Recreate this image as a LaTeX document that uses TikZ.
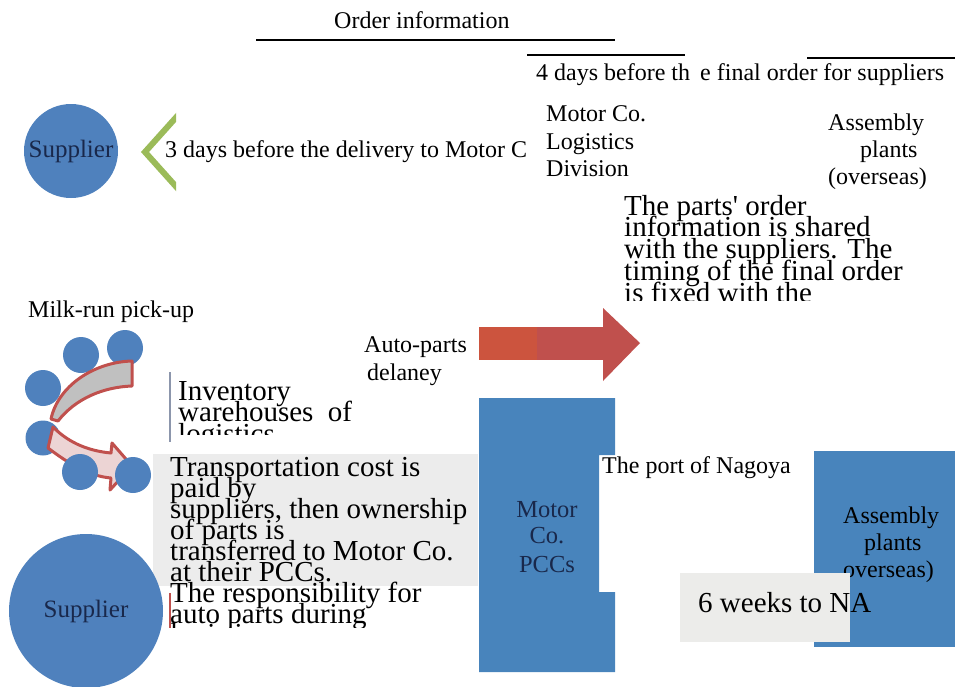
\documentclass[tikz,border=0pt]{standalone}
\usepackage{fontspec}
\setmainfont{Liberation Serif}
\definecolor{boxblue}{RGB}{72,132,188}
\definecolor{circblue}{RGB}{79,129,189}
\definecolor{navy}{RGB}{25,40,75}
\definecolor{arrred}{RGB}{192,80,77}
\definecolor{arrorange}{RGB}{204,84,62}
\definecolor{chevgreen}{RGB}{155,187,89}
\definecolor{greybox}{RGB}{236,236,236}
\definecolor{greybox2}{RGB}{236,236,234}
\definecolor{bandgrey}{RGB}{192,192,192}
\definecolor{bandpink}{RGB}{236,212,212}
\definecolor{thinline}{RGB}{140,150,172}
\begin{document}
\begin{tikzpicture}[x=1pt,y=-1pt,
  sm/.style={font=\fontsize{24}{24}\selectfont, inner sep=0pt, anchor=base west},
  lg/.style={font=\fontsize{29}{29}\selectfont, inner sep=0pt, anchor=base west},
  inbox/.style={font=\fontsize{24.5}{24}\selectfont, inner sep=0pt, anchor=base, text=navy},
  hline/.style={line width=2pt},
  blob/.style={circle, fill=circblue, inner sep=0pt, minimum size=#1},
  bandline/.style={draw=arrred, line width=3pt, line join=round},
]
\useasboundingbox (0,0) rectangle (955,686);

% ---- top rules and texts
\coordinate (l1a) at (256,40); \coordinate (l1b) at (615,40);
\coordinate (l2a) at (527,55); \coordinate (l2b) at (685,55);
\coordinate (l3a) at (807,58); \coordinate (l3b) at (955,58);
\draw[hline] (l1a) -- (l1b);
\draw[hline] (l2a) -- (l2b);
\draw[hline] (l3a) -- (l3b);
\node[sm] (ordinfo) at (334,28) {Order information};
\node[sm] (fourA) at (536,80) {4 days before th};
\node[sm] (fourB) at (700,80) {e final order for suppliers};

% ---- supplier (top) and chevron
\node[blob=94pt, font=\fontsize{25}{25}\selectfont, text=navy] (sup1) at (71,151) {Supplier};
\begin{scope}
  \clip (130,100) rectangle (176,200);
  \coordinate (chA) at (180,113);
  \coordinate (chB) at (145,152);
  \coordinate (chC) at (180,191);
  \draw[chevgreen, line width=6pt, line join=miter] (chA) -- (chB) -- (chC);
\end{scope}
\node[sm] (three) at (165,157) {3 days before the delivery to Motor C};

\node[sm] (mc1) at (546,121) {Motor Co.};
\node[sm] (mc2) at (546,149) {Logistics};
\node[sm] (mc3) at (546,176) {Division};

\node[sm] (as1) at (828,130) {Assembly};
\node[sm] (as2) at (860,157) {plants};
\node[sm] (as3) at (828,184) {(overseas)};

% ---- parts order text (clipped)
\begin{scope}
  \clip (600,190) rectangle (955,300);
  \foreach \t [count=\i] in {The parts\textquotesingle{} order, information is shared, with the suppliers. The, timing of the final order, is fixed with the}
    \node[lg] (po\i) at (624,{215+21.8*(\i-1)}) {\t};
\end{scope}

% ---- milk run
\node[sm] (milk) at (28,317) {Milk-run pick-up};
\node[blob=36pt] (mA) at (81,355) {};
\node[blob=36pt] (mB) at (125,348) {};
\node[blob=36pt] (mC) at (43,388) {};
\node[blob=35pt] (mD) at (43,438) {};
\draw[bandline, fill=bandgrey] (132,361) -- (132,386)
  .. controls (104,387) and (76,398) .. (58,421)
  -- (51,419)
  .. controls (58,386) and (94,362) .. cycle;
\draw[bandline, fill=bandpink] (53,427)
  .. controls (70,444) and (90,451) .. (111,453)
  -- (112,443) -- (132,466) -- (110,490) -- (111,478)
  .. controls (88,476) and (68,463) .. (48,448) -- cycle;
\node[blob=36pt] (mE) at (80,472) {};
\node[blob=36pt] (mF) at (133,475) {};

% ---- inventory text
\coordinate (vl1) at (170,372); \coordinate (vl2) at (170,442);
\draw[thinline, line width=1.5pt] (vl1) -- (vl2);
\begin{scope}
  \clip (160,370) rectangle (480,434);
  \node[lg] (inv1) at (178,400) {Inventory};
  \node[lg] (inv2) at (178,421.7) {warehouses\ \ of};
  \node[lg] (inv3) at (178,443.4) {logistics};
\end{scope}

% ---- transportation box
\fill[greybox] (153,454) rectangle (478,586);
\begin{scope}
  \clip (150,450) rectangle (480,627);
  \foreach \t [count=\i] in {Transportation cost is, paid by, {suppliers, then ownership}, of parts is, transferred to Motor Co., at their PCCs., The responsibility for, auto parts during, logistics are}
    \node[lg] (tr\i) at (170,{476.7+20.9*(\i-1)}) {\t};
\end{scope}
\coordinate (rl1) at (170,593); \coordinate (rl2) at (170,628);
\draw[arrred, line width=2pt] (rl1) -- (rl2);

% ---- supplier (bottom)
\node[blob=154pt, font=\fontsize{25}{25}\selectfont, text=navy] (sup2) at (86,611) {Supplier};

% ---- red arrow
\fill[arrred] (479,327) rectangle (603,360);
\fill[arrorange] (479,327) rectangle (537,360);
\fill[arrred] (603,308) -- (640,343) -- (603,381) -- cycle;
\node[sm] (ap1) at (364,352) {Auto-parts};
\node[sm] (ap2) at (367,380) {delaney};

% ---- PCC box
\fill[boxblue] (479,398) -- (615,398) -- (615,455) -- (599,455) -- (599,592)
  -- (615,592) -- (615,672) -- (479,672) -- cycle;
\node[inbox] (pcc1) at (547,517) {Motor};
\node[inbox] (pcc2) at (547,543) {Co.};
\node[inbox] (pcc3) at (547,572) {PCCs};
\node[sm] (nagoya) at (602,473) {The port of Nagoya};

% ---- assembly overseas box
\fill[boxblue] (814,451) rectangle (955,647);
\node[sm] (ab1) at (843,523) {Assembly};
\node[sm] (ab2) at (864,550) {plants};
\node[sm] (ab3) at (843,577) {overseas)};
\fill[greybox2] (680,573) rectangle (850,642);
\node[lg] (six) at (698,612) {6 weeks to NA};
\end{tikzpicture}
\end{document}
